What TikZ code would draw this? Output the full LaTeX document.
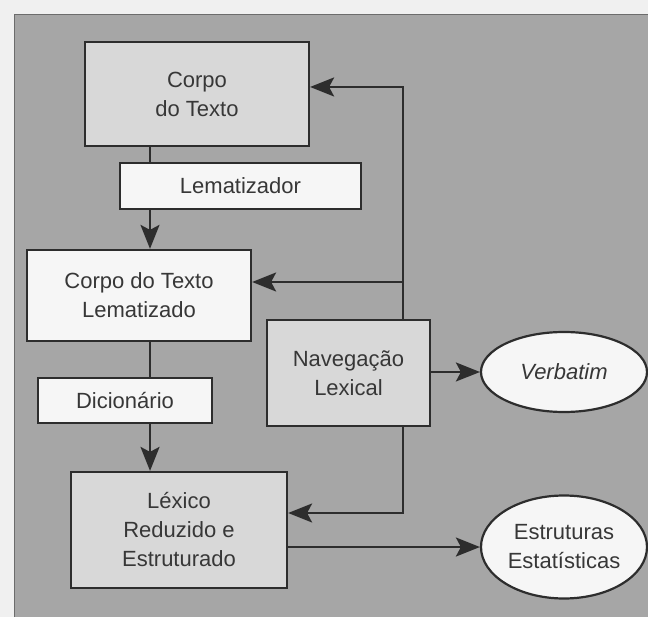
\documentclass[tikz,border=0pt]{standalone}
\usepackage{fontspec}
\setmainfont{Liberation Sans}
\usetikzlibrary{arrows.meta,shapes.geometric,calc}
\definecolor{panel}{RGB}{166,166,166}
\definecolor{boxgray}{RGB}{216,216,216}
\definecolor{boxlight}{RGB}{246,246,246}
\definecolor{ink}{RGB}{45,45,45}
\definecolor{txt}{RGB}{55,55,55}
\begin{document}
\begin{tikzpicture}[x=1pt,y=-1pt,
  every node/.style={font=\fontsize{22}{29}\selectfont, text=txt, align=center, inner sep=0pt},
  gbox/.style={draw=ink, line width=2.2pt, fill=boxgray, rectangle},
  lbox/.style={draw=ink, line width=2.2pt, fill=boxlight, rectangle},
  oval/.style={draw=ink, line width=2.2pt, fill=boxlight, ellipse},
  conn/.style={draw=ink, line width=2.3pt},
  arr/.style={conn, -{Stealth[length=24pt,width=19pt,inset=5pt]}}
]
\useasboundingbox (0,0) rectangle (648,617);
\fill[white!94!black] (0,0) rectangle (648,617);
\fill[panel] (14,14) rectangle (648,617);
\draw[ink!70, line width=0.8pt] (648,14) -- (14,14) -- (14,617);

\node[gbox, minimum width=224pt, minimum height=104pt] (corpo) at (197,94) {Corpo\\do Texto};
\node[lbox, minimum width=241pt, minimum height=46pt] (lemat) at (240.5,186) {Lematizador};
\node[lbox, minimum width=224pt, minimum height=91pt] (corpolem) at (139,295.5) {Corpo do Texto\\Lematizado};
\node[lbox, minimum width=174pt, minimum height=45pt] (dic) at (125,400.5) {Dicionário};
\node[gbox, minimum width=216pt, minimum height=116pt] (lex) at (179,530) {Léxico\\Reduzido e\\Estruturado};
\node[gbox, minimum width=163pt, minimum height=106pt] (nav) at (348.5,373) {Navegação\\Lexical};
\node[oval, minimum width=166pt, minimum height=80pt] (verb) at (564,372) {\itshape Verbatim};
\node[oval, minimum width=166pt, minimum height=103pt] (estr) at (564,547) {Estruturas\\Estatísticas};

\coordinate (cx) at (150,0);
\coordinate (a1) at (403,87);
\coordinate (a2) at (403,282);
\coordinate (a3) at (403,513);

\draw[conn] (corpo.south -| cx) -- (lemat.north -| cx);
\draw[arr] (lemat.south -| cx) -- (corpolem.north -| cx);
\draw[conn] (corpolem.south -| cx) -- (dic.north -| cx);
\draw[arr] (dic.south -| cx) -- (lex.north -| cx);

\draw[arr] (nav.north -| a1) -- (a1) -- (a1 -| corpo.east);
\draw[arr] (a2) -- (a2 -| corpolem.east);
\draw[arr] (nav.south -| a3) -- (a3) -- (a3 -| lex.east);
\draw[arr] (nav.east |- verb.west) -- (verb.west);
\draw[arr] (lex.east |- estr.west) -- (estr.west);
\end{tikzpicture}
\end{document}
